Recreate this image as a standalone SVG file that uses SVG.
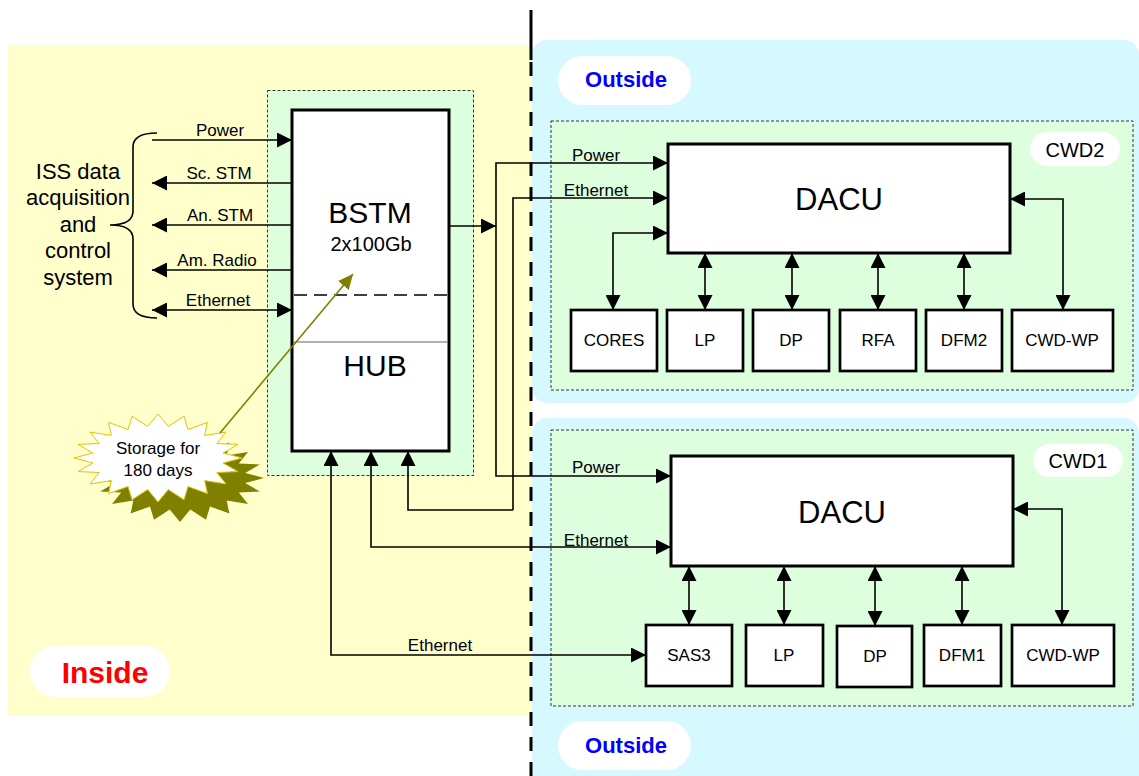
<svg xmlns="http://www.w3.org/2000/svg" width="1139" height="776" viewBox="0 0 1139 776">
  <style>
    text { font-family: "Liberation Sans", Arial, sans-serif; fill: #000; text-anchor: middle; }
    .lbl { font-size: 17px; }
    .big { font-size: 31px; }
    .iss { font-size: 22px; }
    .cwd { font-size: 20px; }
    .zone { font-weight: bold; font-size: 22px; fill: #0000FF; }
    .inside { font-weight: bold; font-size: 30px; fill: #FF0000; }
    .box { fill: #fff; stroke: #000; stroke-width: 3; }
    .sub { fill: #fff; stroke: #000; stroke-width: 2.7; }
    .cont { fill: #DDFFDD; stroke: #333; stroke-width: 1; stroke-dasharray: 3 2; }
    .pill { fill: #fff; }
    .ln { fill: none; stroke: #000; stroke-width: 1.6; }
    .one { marker-end: url(#ah); }
    .two { marker-start: url(#ah); marker-end: url(#ah); }
  </style>
  <defs>
    <marker id="ah" viewBox="0 0 15 15" markerUnits="userSpaceOnUse" markerWidth="15" markerHeight="15" refX="15" refY="7.5" orient="auto-start-reverse">
      <path d="M0,0 L15,7.5 L0,15 z" fill="#000"/>
    </marker>
    <marker id="ahOlive" viewBox="0 0 15 14" markerUnits="userSpaceOnUse" markerWidth="15" markerHeight="14" refX="15" refY="7" orient="auto">
      <path d="M0,0 L15,7 L0,14 z" fill="#808000"/>
    </marker>
  </defs>

  <!-- zones -->
  <g id="zones">
    <rect x="8" y="45" width="523" height="671" fill="#FFFFCC"/>
    <rect x="532" y="40" width="607" height="363" rx="15" fill="#D6F8FF"/>
    <rect x="532" y="418" width="607" height="375" rx="15" fill="#D6F8FF"/>
    <line x1="531" y1="10" x2="531" y2="60" stroke="#000" stroke-width="3"/>
    <line x1="531" y1="62" x2="531" y2="776" stroke="#000" stroke-width="3" stroke-dasharray="14 11"/>
  </g>

  <g id="zone-labels">
    <rect class="pill" x="558" y="56" width="133" height="49" rx="24.5"/>
    <text class="zone" x="626" y="87">Outside</text>
    <rect class="pill" x="558" y="721" width="133" height="49" rx="24.5"/>
    <text class="zone" x="626" y="753">Outside</text>
    <rect class="pill" x="30" y="645" width="140" height="52" rx="26"/>
    <text class="inside" x="105" y="683">Inside</text>
  </g>

  <!-- containers -->
  <g id="bstm-container"><rect class="cont" x="267.5" y="90.5" width="206" height="385"/></g>
  <g id="cwd2">
    <rect class="cont" x="551" y="121" width="582" height="269"/>
    <rect class="pill" x="1030" y="132" width="90" height="34" rx="17"/>
    <text class="cwd" x="1075" y="157">CWD2</text>
  </g>
  <g id="cwd1">
    <rect class="cont" x="551" y="430" width="582" height="276"/>
    <rect class="pill" x="1033" y="444" width="90" height="33" rx="16.5"/>
    <text class="cwd" x="1078" y="468">CWD1</text>
  </g>

  <!-- ISS system -->
  <g id="iss">
    <text class="iss" x="78" y="179">ISS data</text>
    <text class="iss" x="78" y="205">acquisition</text>
    <text class="iss" x="78" y="232">and</text>
    <text class="iss" x="78" y="258">control</text>
    <text class="iss" x="78" y="285">system</text>
    <path class="ln" d="M157,133 Q133,133 133,147 V211 Q133,225 110,225 Q133,225 133,239 V304 Q133,318 157,318"/>
  </g>

  <!-- BSTM / HUB -->
  <g id="bstm">
    <rect class="box" x="292" y="110" width="157" height="341"/>
    <line x1="294" y1="295" x2="447" y2="295" stroke="#000" stroke-width="1.5" stroke-dasharray="13 7"/>
    <line x1="294" y1="342" x2="447" y2="342" stroke="#999" stroke-width="1.5"/>
    <text x="370" y="223" style="font-size:30px">BSTM</text>
    <text x="371" y="251" style="font-size:20px">2x100Gb</text>
    <text x="375" y="376" style="font-size:30px">HUB</text>
  </g>

  <!-- CWD2 units -->
  <g id="dacu2">
    <rect class="box" x="668" y="144" width="342" height="109"/>
    <text class="big" x="839" y="210">DACU</text>
  </g>
  <g id="cores"><rect class="sub" x="571" y="310" width="86" height="61"/><text class="lbl" x="614" y="346">CORES</text></g>
  <g id="lp2"><rect class="sub" x="667" y="310" width="76" height="61"/><text class="lbl" x="705" y="346">LP</text></g>
  <g id="dp2"><rect class="sub" x="753" y="310" width="76" height="61"/><text class="lbl" x="791" y="346">DP</text></g>
  <g id="rfa"><rect class="sub" x="840" y="310" width="76" height="61"/><text class="lbl" x="878" y="346">RFA</text></g>
  <g id="dfm2"><rect class="sub" x="926" y="310" width="76" height="61"/><text class="lbl" x="964" y="346">DFM2</text></g>
  <g id="cwdwp2"><rect class="sub" x="1012" y="310" width="101" height="61"/><text class="lbl" x="1062" y="346">CWD-WP</text></g>

  <!-- CWD1 units -->
  <g id="dacu1">
    <rect class="box" x="671" y="456" width="342" height="110"/>
    <text class="big" x="842" y="523">DACU</text>
  </g>
  <g id="sas3"><rect class="sub" x="646" y="625" width="86" height="61"/><text class="lbl" x="689" y="661">SAS3</text></g>
  <g id="lp1"><rect class="sub" x="746" y="625" width="77" height="61"/><text class="lbl" x="784" y="661">LP</text></g>
  <g id="dp1"><rect class="sub" x="837" y="626" width="75" height="61"/><text class="lbl" x="875" y="662">DP</text></g>
  <g id="dfm1"><rect class="sub" x="924" y="625" width="77" height="61"/><text class="lbl" x="962" y="661">DFM1</text></g>
  <g id="cwdwp1"><rect class="sub" x="1012" y="625" width="102" height="61"/><text class="lbl" x="1063" y="661">CWD-WP</text></g>

  <!-- storage note -->
  <g id="storage">
    <polygon transform="translate(22,20)" fill="#808000" points="242,458 223.2,463 237.9,471.6 216.8,472.5 226,483.9 204.7,480.6 207.4,493.6 188,486.5 184,499.8 168.3,489.6 158,502 147.7,489.6 132,499.8 128,486.5 108.6,493.6 111.3,480.6 90,483.9 99.2,472.5 78.1,471.6 92.8,463 74,458 92.8,453 78.1,444.4 99.2,443.5 90,432.1 111.3,435.4 108.6,422.4 128,429.5 132,416.2 147.7,426.4 158,414 168.3,426.4 184,416.2 188,429.5 207.4,422.4 204.7,435.4 226,432.1 216.8,443.5 237.9,444.4 223.2,453"/>
    <polygon fill="#fff" stroke="#E6C300" stroke-width="1" points="242,458 223.2,463 237.9,471.6 216.8,472.5 226,483.9 204.7,480.6 207.4,493.6 188,486.5 184,499.8 168.3,489.6 158,502 147.7,489.6 132,499.8 128,486.5 108.6,493.6 111.3,480.6 90,483.9 99.2,472.5 78.1,471.6 92.8,463 74,458 92.8,453 78.1,444.4 99.2,443.5 90,432.1 111.3,435.4 108.6,422.4 128,429.5 132,416.2 147.7,426.4 158,414 168.3,426.4 184,416.2 188,429.5 207.4,422.4 204.7,435.4 226,432.1 216.8,443.5 237.9,444.4 223.2,453"/>
    <text class="lbl" x="158" y="454">Storage for</text>
    <text class="lbl" x="158" y="476">180 days</text>
  </g>

  <!-- connectors -->
  <g id="connectors">
    <path class="ln one" d="M152,140 H292"/>
    <path class="ln one" d="M292,183 H152"/>
    <path class="ln one" d="M292,225 H152"/>
    <path class="ln one" d="M292,270 H152"/>
    <path class="ln two" d="M152,310 H292"/>

    <path class="ln one" d="M449,226 H496"/>
    <path class="ln one" d="M496,226 V163 H668"/>
    <path class="ln one" d="M496,226 V476 H671"/>
    <path class="ln one" d="M513,510 V198 H668"/>
    <path class="ln one" d="M513,510 H408 V451"/>
    <path class="ln two" d="M371,451 V547 H671"/>
    <path class="ln two" d="M331,451 V655 H646"/>

    <path class="ln two" d="M668,233 H613 V310"/>
    <path class="ln two" d="M705,253 V310"/>
    <path class="ln two" d="M792,253 V310"/>
    <path class="ln two" d="M878,253 V310"/>
    <path class="ln two" d="M964,253 V310"/>
    <path class="ln two" d="M1010,199 H1063 V310"/>

    <path class="ln two" d="M689,566 V625"/>
    <path class="ln two" d="M784,566 V625"/>
    <path class="ln two" d="M875,566 V626"/>
    <path class="ln two" d="M962,566 V625"/>
    <path class="ln two" d="M1013,509 H1062 V625"/>

    <path d="M220,433 L353,274" fill="none" stroke="#808000" stroke-width="1.6" marker-end="url(#ahOlive)"/>
  </g>

  <!-- connector labels -->
  <g id="connector-labels">
    <text class="lbl" x="220" y="136">Power</text>
    <text class="lbl" x="219" y="179">Sc. STM</text>
    <text class="lbl" x="220" y="221">An. STM</text>
    <text class="lbl" x="217" y="266">Am. Radio</text>
    <text class="lbl" x="218" y="306">Ethernet</text>
    <text class="lbl" x="596" y="161">Power</text>
    <text class="lbl" x="596" y="196">Ethernet</text>
    <text class="lbl" x="596" y="473">Power</text>
    <text class="lbl" x="596" y="546">Ethernet</text>
    <text class="lbl" x="440" y="651">Ethernet</text>
  </g>
</svg>
